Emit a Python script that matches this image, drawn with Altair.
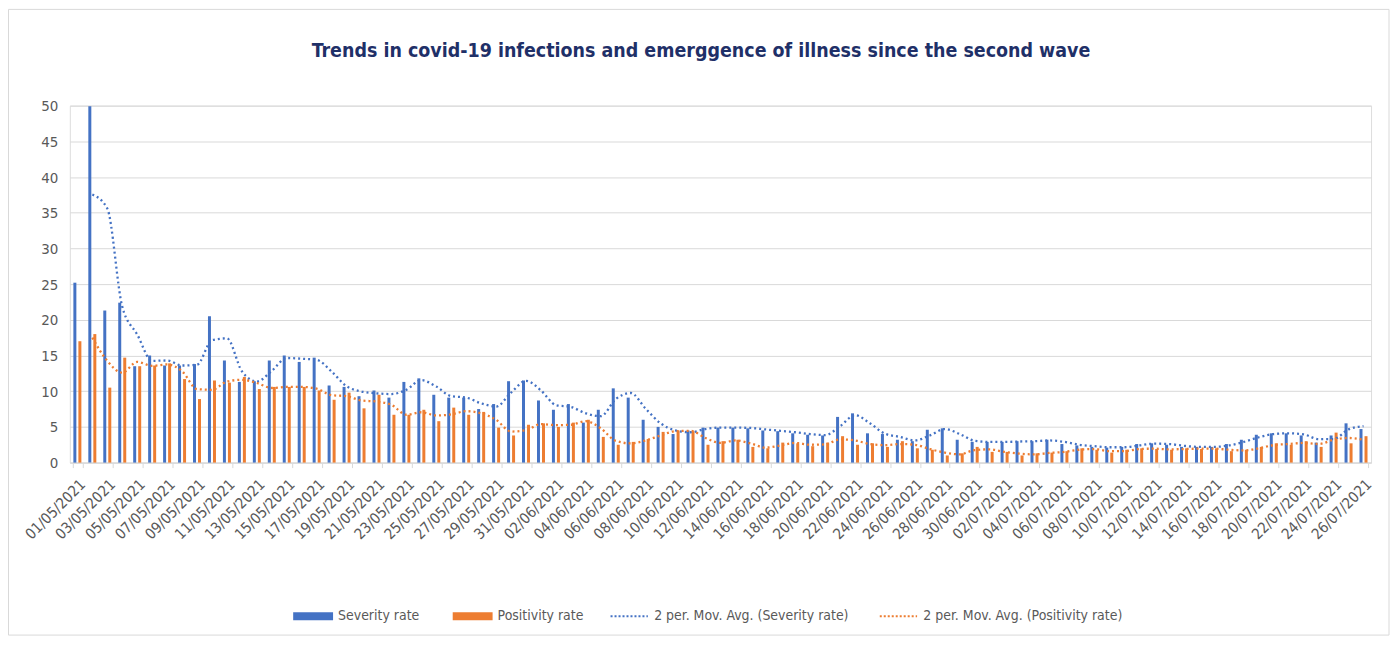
import altair as alt
import pandas as pd

# ---------------- data ----------------
dates = [d.strftime("%d/%m/%Y") for d in pd.date_range("2021-05-01", "2021-07-26")]

severity = [
    25.2, 49.9, 21.3, 22.4, 13.5, 15.0, 13.6, 13.6, 13.8, 20.5,
    14.3, 11.3, 11.4, 14.3, 15.0, 14.1, 14.7, 10.8, 10.6, 9.3,
    10.1, 9.1, 11.3, 11.8, 9.5, 9.1, 9.1, 7.5, 8.2, 11.4,
    11.5, 8.7, 7.4, 8.2, 5.6, 7.4, 10.4, 9.1, 6.0, 5.0,
    4.0, 4.5, 4.9, 4.9, 4.9, 4.8, 4.5, 4.4, 4.1, 3.9,
    3.8, 6.4, 6.9, 4.1, 4.0, 3.2, 3.0, 4.6, 4.8, 3.2,
    2.9, 2.9, 2.9, 3.0, 3.0, 3.2, 2.6, 2.4, 2.2, 2.1,
    2.2, 2.6, 2.7, 2.5, 2.2, 2.2, 2.2, 2.6, 3.2, 3.9,
    4.1, 4.1, 3.8, 2.8, 3.8, 5.5, 4.7,
]

positivity = [
    17.0, 18.0, 10.5, 14.7, 13.5, 13.6, 13.9, 11.7, 8.9, 11.5,
    11.2, 12.0, 10.3, 10.6, 10.6, 10.6, 10.1, 8.8, 9.8, 7.6,
    9.5, 6.7, 6.7, 7.4, 5.8, 7.7, 6.7, 7.1, 4.9, 3.8,
    5.3, 5.5, 5.0, 5.6, 6.0, 3.6, 2.5, 2.9, 3.3, 4.3,
    4.5, 4.4, 2.5, 3.0, 3.2, 2.2, 2.0, 2.8, 2.7, 2.3,
    2.8, 3.7, 2.5, 2.7, 2.2, 3.0, 2.0, 1.8, 1.0, 1.3,
    2.2, 1.5, 1.5, 1.0, 1.3, 1.4, 1.6, 2.0, 1.8, 1.4,
    1.8, 2.0, 1.9, 1.8, 2.0, 1.9, 2.0, 1.6, 1.8, 2.2,
    2.7, 2.5, 3.0, 2.2, 4.2, 2.7, 3.7,
]

series_names = ["Severity rate", "Positivity rate"]
ma_names = ["2 per. Mov. Avg. (Severity rate)", "2 per. Mov. Avg. (Positivity rate)"]
series_colors = ["#4472C4", "#ED7D31"]
y_ticks = [0, 5, 10, 15, 20, 25, 30, 35, 40, 45, 50]
title_text = "Trends in covid-19 infections and emerggence of illness since the second wave"

rows = []
for i, d in enumerate(dates):
    rows.append({"date": d, "idx": i, "series": series_names[0], "value": severity[i]})
    rows.append({"date": d, "idx": i, "series": series_names[1], "value": positivity[i]})
df = pd.DataFrame(rows)

# ---------------- styling ----------------
FONT = "Liberation Sans Narrow, DejaVu Sans Condensed, Roboto, sans-serif"
GREY = "#595959"
GRID = "#D9D9D9"

xscale = alt.Scale(domain=dates, paddingInner=0.33, paddingOuter=0.17)
yscale = alt.Scale(domain=[0, 50], nice=False)

xaxis = alt.Axis(
    title=None, values=dates[::2], labelAngle=-45, labelFont=FONT, labelFontSize=15,
    labelColor=GREY, tickBand="extent", tickColor=GRID, tickSize=5,
    domainColor=GRID, domainWidth=1, grid=False, labelPadding=9,
)
yaxis = alt.Axis(
    title=None, values=y_ticks, labelFont=FONT, labelFontSize=15, labelColor=GREY,
    domain=False, ticks=False, gridColor=GRID, gridWidth=1, labelPadding=12,
    minExtent=50, maxExtent=50,
)

bar_legend = alt.Legend(
    title=None, orient="none", legendX=224, legendY=492, direction="horizontal",
    symbolType="M-1,-0.2H1V0.2H-1Z", symbolSize=1600, symbolStrokeWidth=0,
    labelFont=FONT, labelFontSize=14, labelColor=GREY,
    columnPadding=33, labelOffset=5, labelLimit=400,
)
line_legend = alt.Legend(
    title=None, orient="none", legendX=541, legendY=492, direction="horizontal",
    symbolType="stroke", symbolSize=1400, symbolStrokeWidth=2, symbolDash=[2, 2],
    labelFont=FONT, labelFontSize=14, labelColor=GREY,
    columnPadding=26, labelOffset=5, labelLimit=400,
)

bars = alt.Chart(df).mark_bar(size=3).encode(
    x=alt.X("date:N", scale=xscale, sort=dates, axis=xaxis),
    xOffset=alt.XOffset("series:N", sort=series_names,
                        scale=alt.Scale(domain=series_names, paddingInner=0, paddingOuter=0)),
    y=alt.Y("value:Q", scale=yscale, axis=yaxis),
    color=alt.Color("series:N", scale=alt.Scale(domain=series_names, range=series_colors),
                    legend=bar_legend),
)

lines = alt.Chart(df).transform_window(
    ma="mean(value)", frame=[-1, 0], groupby=["series"], sort=[alt.SortField("idx")]
).transform_filter("datum.idx > 0").transform_calculate(
    ma_series="'2 per. Mov. Avg. (' + datum.series + ')'"
).mark_line(strokeDash=[2, 3], strokeWidth=2.3, interpolate="monotone").encode(
    x=alt.X("date:N", scale=xscale, sort=dates, axis=xaxis),
    y=alt.Y("ma:Q", scale=yscale, axis=yaxis),
    stroke=alt.Stroke("ma_series:N", scale=alt.Scale(domain=ma_names, range=series_colors),
                      legend=line_legend),
)

one = pd.DataFrame({"k": [0]})
frame = alt.Chart(one).mark_rect(
    fill="transparent", stroke=GRID, strokeWidth=1
).encode(
    x=alt.value(-61.5), x2=alt.value(1323), y=alt.value(-96.5), y2=alt.value(531)
)
title = alt.Chart(one).mark_text(
    font=FONT, fontSize=19.5, fontWeight="bold", color="#1F3068",
    align="center", baseline="middle",
).encode(x=alt.value(633), y=alt.value(-55), text=alt.value(title_text))

chart = alt.layer(frame, title, bars, lines).properties(
    width=1305, height=358,
    padding={"left": 0, "top": 0, "right": 2, "bottom": 0},
).configure_view(stroke=None).configure(background="white")

chart.save("out.html", embed_options={"renderer": "svg", "actions": False})
